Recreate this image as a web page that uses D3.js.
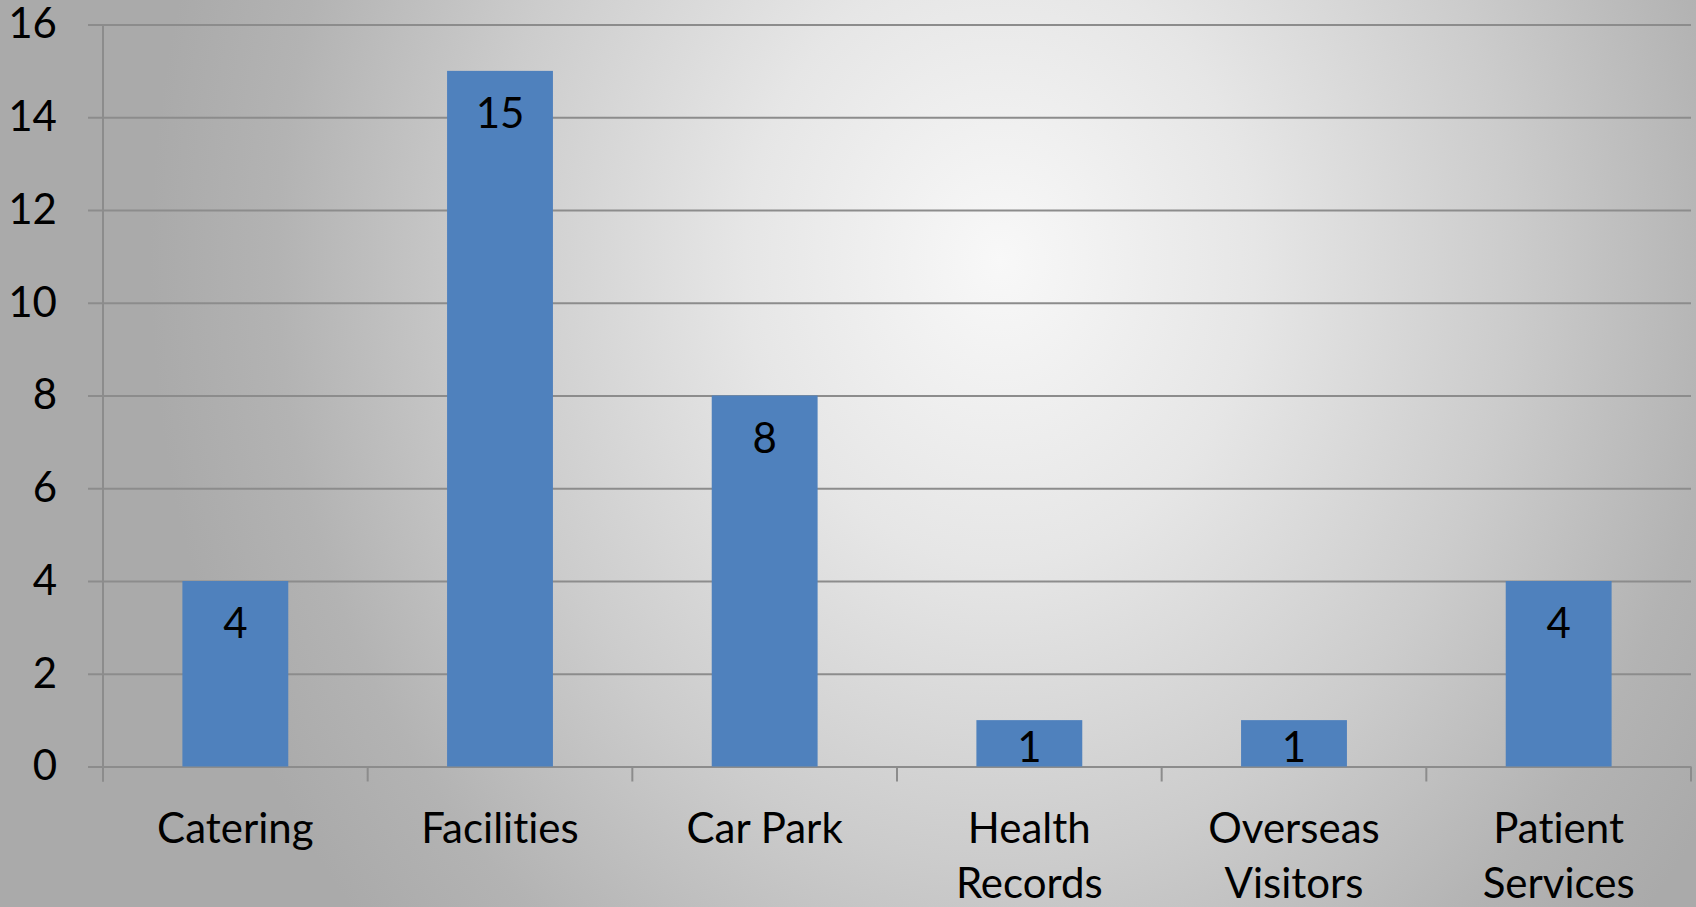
<!DOCTYPE html>
<html>
<head>
<meta charset="utf-8">
<script src="https://cdnjs.cloudflare.com/ajax/libs/d3/7.8.5/d3.min.js"></script>
<style>
  body { margin: 0; background: #fff; }
  text {
    font-family: Lato, "Open Sans", sans-serif;
    fill: #000;
    font-variant-ligatures: none;
    font-feature-settings: "liga" 0, "clig" 0, "dlig" 0;
    letter-spacing: 0.01px;
  }
</style>
</head>
<body>
<div id="chart"></div>
<script>
// data
var categories = ["Catering", "Facilities", "Car Park", "Health Records", "Overseas Visitors", "Patient Services"];
var counts = [4, 15, 8, 1, 1, 4];
var yTicks = [0, 2, 4, 6, 8, 10, 12, 14, 16];

var svgWidth = 1696;
var svgHeight = 907;
var fontSize = 42;

var svg = d3.select("#chart")
  .append("svg")
  .attr("width", svgWidth)
  .attr("height", svgHeight);

// background: soft radial grey, light spot upper middle-right
var defs = svg.append("defs");
var grad = defs.append("radialGradient")
  .attr("id", "bg")
  .attr("gradientUnits", "userSpaceOnUse")
  .attr("cx", 1000).attr("cy", 260).attr("r", 850)
  .attr("gradientTransform", "translate(1000,260) scale(1,1.18) translate(-1000,-260)");
grad.append("stop").attr("offset", "0").attr("stop-color", "#f8f8f8");
grad.append("stop").attr("offset", "0.3").attr("stop-color", "#e6e6e6");
grad.append("stop").attr("offset", "0.6").attr("stop-color", "#cccccc");
grad.append("stop").attr("offset", "0.85").attr("stop-color", "#b3b3b3");
grad.append("stop").attr("offset", "1").attr("stop-color", "#aaaaaa");

svg.append("rect")
  .attr("width", svgWidth)
  .attr("height", svgHeight)
  .attr("fill", "url(#bg)");

// plot area
var plotLeft = 103, plotRight = 1691, plotTop = 24.5, plotBottom = 766.5;

var x = d3.scaleBand()
  .domain(categories)
  .range([plotLeft, plotRight])
  .padding(0);

var y = d3.scaleLinear()
  .domain([0, 16])
  .range([plotBottom, plotTop]);

var gridColor = "#8c8c8c";

// gridlines + y ticks
var leftAxis = d3.axisLeft(y)
  .tickValues(yTicks)
  .tickSize(-(plotRight - plotLeft))
  .tickSizeOuter(0)
  .tickPadding(46)
  .tickFormat(d3.format("d"));

var yAxis = svg.append("g")
  .attr("transform", `translate(${plotLeft},0)`)
  .call(leftAxis);
yAxis.select(".domain").remove();
yAxis.selectAll(".tick line")
  .attr("x1", -15)
  .attr("stroke", gridColor)
  .attr("stroke-width", 2);
yAxis.selectAll(".tick text")
  .attr("font-size", fontSize)
  .attr("font-family", "Lato, sans-serif")
  .attr("fill", "#000");

// vertical axis line
svg.append("line")
  .attr("x1", plotLeft).attr("x2", plotLeft)
  .attr("y1", plotTop).attr("y2", plotBottom + 15)
  .attr("stroke", gridColor)
  .attr("stroke-width", 2);

// category boundary ticks
var bounds = categories.map(c => x(c)).concat([plotRight]);
svg.selectAll(".ctick")
  .data(bounds)
  .enter()
  .append("line")
  .attr("class", "ctick")
  .attr("x1", d => d).attr("x2", d => d)
  .attr("y1", plotBottom).attr("y2", plotBottom + 15)
  .attr("stroke", gridColor)
  .attr("stroke-width", 2);

// bars
var barW = x.bandwidth() * 0.4;
svg.selectAll(".bar")
  .data(counts)
  .enter()
  .append("rect")
  .attr("class", "bar")
  .attr("x", (d, i) => x(categories[i]) + (x.bandwidth() - barW) / 2)
  .attr("y", d => y(d))
  .attr("width", barW)
  .attr("height", d => y(0) - y(d))
  .attr("fill", "#4f81bd");

// value labels, inside end
svg.selectAll(".val")
  .data(counts)
  .enter()
  .append("text")
  .attr("class", "val")
  .attr("x", (d, i) => x(categories[i]) + x.bandwidth() / 2)
  .attr("y", d => Math.min(y(d) + 57, y(0) - 5))
  .attr("text-anchor", "middle")
  .attr("font-size", fontSize)
  .text(d => d);

// category labels, wrapped when too wide
categories.forEach(function(c) {
  var t = svg.append("text")
    .attr("text-anchor", "middle")
    .attr("font-size", fontSize)
    .attr("x", x(c) + x.bandwidth() / 2)
    .attr("y", 843)
    .text(c);
  if (t.node().getComputedTextLength() > x.bandwidth() * 0.8) {
    var words = c.split(" ");
    t.text(null);
    words.forEach(function(w, i) {
      t.append("tspan")
        .attr("x", x(c) + x.bandwidth() / 2)
        .attr("dy", i === 0 ? 0 : 55)
        .text(w);
    });
  }
});
</script>
</body>
</html>
